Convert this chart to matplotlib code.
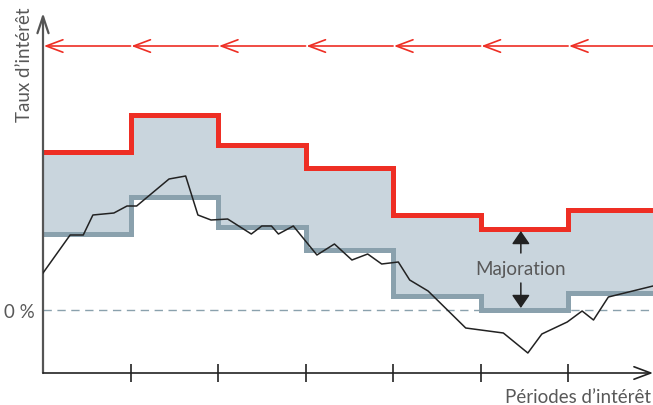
import numpy as np
import matplotlib
matplotlib.use("Agg")
from matplotlib import pyplot as plt

plt.rcParams['font.family'] = ['Lato', 'DejaVu Sans']

# periodes d'interet (bords des periodes)
bords = [0, 1, 2, 3, 4, 5, 6, 7]
# taux plafond (rouge) et taux plancher (gris) par periode
taux_haut = [7.9, 9.75, 8.25, 7.1, 4.75, 4.05, 5.0]
taux_bas = [3.8, 5.65, 4.15, 3.0, 0.7, 0.0, 0.85]

# taux de reference (ligne noire)
ref_x = [0.00, 0.31, 0.46, 0.57, 0.81, 0.96, 1.07, 1.44, 1.63, 1.77, 1.92,
         2.11, 2.38, 2.50, 2.61, 2.69, 2.86, 3.13, 3.33, 3.53, 3.71, 3.87,
         4.06, 4.19, 4.40, 4.83, 5.26, 5.54, 5.70, 5.99, 6.16, 6.29, 6.46, 6.97]
ref_y = [1.85, 3.75, 3.75, 4.75, 4.85, 5.20, 5.20, 6.55, 6.70, 4.75, 4.50,
         4.55, 3.80, 4.20, 4.20, 3.80, 4.20, 2.75, 3.30, 2.50, 2.80, 2.30,
         2.40, 1.50, 0.95, -0.90, -1.15, -2.15, -1.20, -0.60, -0.05, -0.50, 0.65, 1.20]

niveau_fleches = 13.2

rouge = '#ee2e24'
gris = '#8aa1ad'
remplissage = '#c9d5dd'
texte = '#585858'

fig = plt.figure(figsize=(6.53, 4.06), dpi=100)
ax = fig.add_axes([43/653, 32/406, 610/653, 360/406])
ax.set_xlim(0, 6.97)
ax.set_ylim(-3.15, 14.85)
for s in ax.spines.values():
    s.set_visible(False)

ax.stairs(taux_haut, bords, baseline=taux_bas, fill=True, color=remplissage, lw=0, zorder=1)
ax.axhline(0, color=gris, lw=1, ls=(0, (6, 4)), zorder=2)
ax.stairs(taux_bas, bords, baseline=None, color=gris, lw=3.6, zorder=3)
ax.stairs(taux_haut, bords, baseline=None, color=rouge, lw=3.6, zorder=3)
ax.plot(ref_x, ref_y, color='#222222', lw=1.1, zorder=4)

# fleches rouges
for i in range(len(bords) - 1):
    ax.annotate('', xy=(bords[i] + 0.01, niveau_fleches), xytext=(bords[i + 1], niveau_fleches),
                arrowprops=dict(arrowstyle='->,head_length=1.2,head_width=0.45', color=rouge, lw=1.2,
                                shrinkA=0, shrinkB=0), annotation_clip=False, zorder=5)

# axes
ax.annotate('', xy=(0, 1.0), xytext=(0, 0), xycoords='axes fraction',
            arrowprops=dict(arrowstyle='->,head_length=1.2,head_width=0.4', color='#555555', lw=1.6,
                            shrinkA=0, shrinkB=0), annotation_clip=False)
ax.annotate('', xy=(1.0, 0), xytext=(0, 0), xycoords='axes fraction',
            arrowprops=dict(arrowstyle='->,head_length=1.2,head_width=0.45', color='#222222', lw=1.2,
                            shrinkA=0, shrinkB=0), annotation_clip=False)

ax.set_xticks(bords[1:7])
ax.set_xticklabels([])
ax.tick_params(axis='x', direction='inout', length=13, width=1.2, color='#222222')
ax.set_yticks([0])
ax.set_yticklabels(['0 %'], fontsize=13.5, color=texte)
ax.tick_params(axis='y', length=0, pad=6)

# majoration
xm = 5.46
ax.annotate('', xy=(xm, taux_haut[5] - 0.1), xytext=(xm, 2.85),
            arrowprops=dict(arrowstyle='-|>,head_length=0.8,head_width=0.55', color='#222222', lw=1.1,
                            shrinkA=0, shrinkB=0))
ax.annotate('', xy=(xm, 0.1), xytext=(xm, 1.35),
            arrowprops=dict(arrowstyle='-|>,head_length=0.8,head_width=0.55', color='#222222', lw=1.1,
                            shrinkA=0, shrinkB=0))
ax.text(xm, 2.1, 'Majoration', ha='center', va='center', fontsize=13.5, color=texte, zorder=6)

fig.text(25/653, 1 - 8/406, "Taux d\u2019intérêt", rotation=90, ha='center', va='top',
         fontsize=13.5, color=texte)
fig.text(651/653, 1 - 398/406, "Périodes d\u2019intérêt", ha='right', va='center',
         fontsize=13.5, color=texte)

fig.savefig('out.png', dpi=100)
